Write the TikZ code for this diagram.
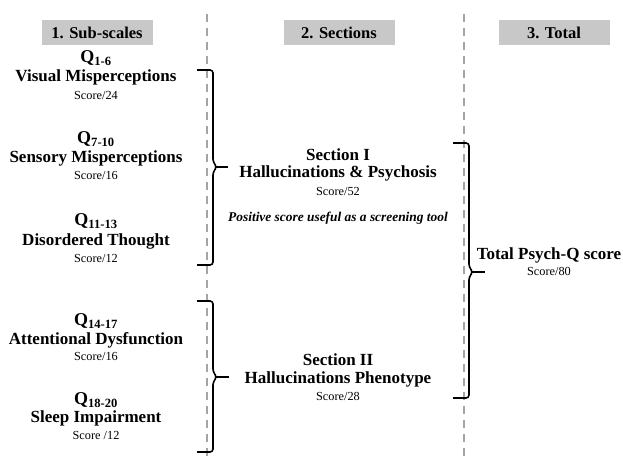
\documentclass[tikz,border=0pt]{standalone}
\usepackage{fontspec}
\setmainfont{Liberation Serif}
\definecolor{boxgray}{RGB}{200,200,200}
\definecolor{dashgray}{RGB}{165,165,165}
\tikzset{
  hdr/.style={fill=boxgray, minimum width=111pt, minimum height=25pt, inner sep=0pt, font=\fontsize{16.5}{18}\selectfont\bfseries},
  qline/.style={inner sep=0pt, font=\fontsize{18}{20}\selectfont\bfseries},
  ttl/.style={inner sep=0pt, font=\fontsize{17}{19}\selectfont\bfseries},
  scr/.style={inner sep=0pt, font=\fontsize{12.3}{14}\selectfont},
  note/.style={inner sep=0pt, font=\fontsize{13.4}{15}\selectfont\bfseries\itshape},
  bracestyle/.style={line width=1.6pt, rounded corners=3pt},
  tipstyle/.style={line width=1.6pt},
  divider/.style={dashgray, line width=2pt, dash pattern=on 8pt off 6pt}
}
\begin{document}
\begin{tikzpicture}[x=1pt,y=-1pt]
\useasboundingbox (0,0) rectangle (623,457);
% dividers
\coordinate (d1t) at (207,14); \coordinate (d1b) at (207,457);
\coordinate (d2t) at (464,14); \coordinate (d2b) at (464,457);
\draw[divider] (d1t) -- (d1b);
\draw[divider] (d2t) -- (d2b);
% headers
\node[hdr] (h1) at (97,33) {1. Sub-scales};
\node[hdr] (h2) at (339,33) {2. Sections};
\node[hdr] (h3) at (554,33) {3. Total};
% sub-scales
\node[qline] (q1) at (96,58) {Q\textsubscript{1-6}};
\node[ttl] (t1) at (96,77) {Visual Misperceptions};
\node[scr] (s1) at (96,95) {Score/24};
\node[qline] (q2) at (96,139) {Q\textsubscript{7-10}};
\node[ttl] (t2) at (96,158) {Sensory Misperceptions};
\node[scr] (s2) at (96,175) {Score/16};
\node[qline] (q3) at (96,221) {Q\textsubscript{11-13}};
\node[ttl] (t3) at (96,241) {Disordered Thought};
\node[scr] (s3) at (96,258) {Score/12};
\node[qline] (q4) at (96,321) {Q\textsubscript{14-17}};
\node[ttl] (t4) at (96,340) {Attentional Dysfunction};
\node[scr] (s4) at (96,356) {Score/16};
\node[qline] (q5) at (96,400) {Q\textsubscript{18-20}};
\node[ttl] (t5) at (96,418) {Sleep Impairment};
\node[scr] (s5) at (96,435) {Score /12};
% sections
\node[ttl] (sec1) at (338,155) {Section I};
\node[ttl] (sec1t) at (338,173) {Hallucinations \& Psychosis};
\node[scr] (sec1s) at (338,191) {Score/52};
\node[note] (nt) at (338,218) {Positive score useful as a screening tool};
\node[ttl] (sec2) at (338,360) {Section II};
\node[ttl] (sec2t) at (338,379) {Hallucinations Phenotype};
\node[scr] (sec2s) at (338,396) {Score/28};
% total
\node[ttl] (tot) at (549,255) {Total Psych-Q score};
\node[scr] (tots) at (549,271) {Score/80};
% brace 1
\coordinate (b1t) at (213,70); \coordinate (b1m) at (213,167); \coordinate (b1b) at (213,265);
\draw[bracestyle] ([xshift=-16pt]b1t) -- (b1t) -- ([yshift=5pt]b1m) -- ([xshift=4pt]b1m) -- ([yshift=-5pt]b1m) -- (b1b) -- ([xshift=-16pt]b1b);
\draw[tipstyle] ([xshift=3pt]b1m) -- ([xshift=15pt]b1m);
% brace 2
\coordinate (b2t) at (213,301); \coordinate (b2m) at (213,377); \coordinate (b2b) at (213,452);
\draw[bracestyle] ([xshift=-16pt]b2t) -- (b2t) -- ([yshift=5pt]b2m) -- ([xshift=4pt]b2m) -- ([yshift=-5pt]b2m) -- (b2b) -- ([xshift=-16pt]b2b);
\draw[tipstyle] ([xshift=3pt]b2m) -- ([xshift=16pt]b2m);
% brace 3
\coordinate (b3t) at (469,143); \coordinate (b3m) at (469,272); \coordinate (b3b) at (469,398);
\draw[bracestyle] ([xshift=-16pt]b3t) -- (b3t) -- ([yshift=5pt]b3m) -- ([xshift=4pt]b3m) -- ([yshift=-5pt]b3m) -- (b3b) -- ([xshift=-16pt]b3b);
\draw[tipstyle] ([xshift=3pt]b3m) -- ([xshift=16pt]b3m);
\end{tikzpicture}
\end{document}
